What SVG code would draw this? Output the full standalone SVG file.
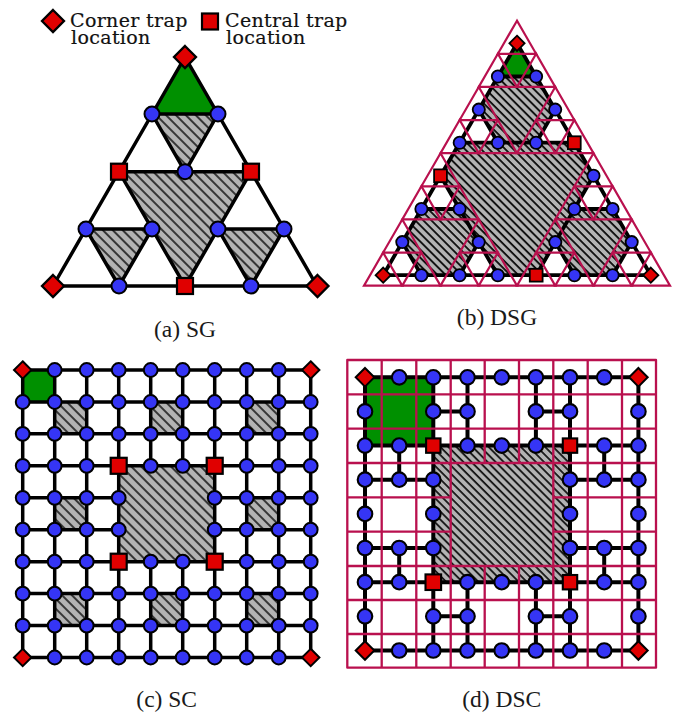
<svg xmlns="http://www.w3.org/2000/svg" width="677" height="713" viewBox="0 0 677 713">
<style>
.t{font-family:"Liberation Serif","Times New Roman",serif;font-size:23.5px;fill:#1a1a1a;text-anchor:middle}
.l{font-family:"DejaVu Serif","Liberation Serif",serif;font-size:19px;fill:#111;stroke:#111;stroke-width:.2;letter-spacing:.35px}
.e{fill:none;stroke:#000;stroke-width:3.5;stroke-linejoin:round;stroke-linecap:round}
.eb{fill:none;stroke:#000;stroke-width:3.8;stroke-linejoin:round;stroke-linecap:round}
.e2{fill:none;stroke:#000;stroke-width:4;stroke-linejoin:round;stroke-linecap:round}
.m{fill:none;stroke:#b9104e;stroke-width:2.2}
.mg{fill:none;stroke:#b9104e;stroke-width:2.3;stroke-linejoin:round;stroke-linecap:round}
.bl{fill:#3535f5;stroke:#000}
.rd{fill:#e00000;stroke:#000}
.gr{fill:#009000}
</style>
<defs>
<pattern id="ha" width="7" height="7" patternUnits="userSpaceOnUse" patternTransform="rotate(-45)"><rect width="7" height="7" fill="#b3b3b3"/><path d="M1,0V7" stroke="#000" stroke-width="1.4"/></pattern>
<pattern id="hb" width="5.7" height="5.7" patternUnits="userSpaceOnUse" patternTransform="rotate(-45)"><rect width="5.7" height="5.7" fill="#b3b3b3"/><path d="M1,0V5.7" stroke="#000" stroke-width="1.7"/></pattern>
<pattern id="hc" width="7" height="7" patternUnits="userSpaceOnUse" patternTransform="rotate(-45)"><rect width="7" height="7" fill="#b3b3b3"/><path d="M1,0V7" stroke="#000" stroke-width="1.4"/></pattern>
<pattern id="hd" width="5.7" height="5.7" patternUnits="userSpaceOnUse" patternTransform="rotate(-45)"><rect width="5.7" height="5.7" fill="#b3b3b3"/><path d="M1,0V5.7" stroke="#000" stroke-width="1.6"/></pattern>
<circle id="ba" class="bl" r="7.5" stroke-width="2"/>
<circle id="bb" class="bl" r="6.1" stroke-width="1.8"/>
<circle id="bc" class="bl" r="6.9" stroke-width="2"/>
<circle id="bd" class="bl" r="7.3" stroke-width="2.1"/>
<rect id="ra" class="rd" x="-8" y="-8" width="16" height="16" stroke-width="2.2"/>
<rect id="rb" class="rd" x="-6.4" y="-6.4" width="12.8" height="12.8" stroke-width="1.8"/>
<rect id="rc" class="rd" x="-8" y="-8" width="16" height="16" stroke-width="2.2"/>
<rect id="rd" class="rd" x="-7.2" y="-7.2" width="14.4" height="14.4" stroke-width="2.1"/>
<rect id="re" class="rd" x="-7.8" y="-7.8" width="15.6" height="15.6" stroke-width="2.1"/>
<path id="da" class="rd" d="M0-11L11 0L0 11L-11 0Z" stroke-width="2.3"/>
<path id="db" class="rd" d="M0-7.6L7.6 0L0 7.6L-7.6 0Z" stroke-width="1.8"/>
<path id="dc" class="rd" d="M0-8.7L8.7 0L0 8.7L-8.7 0Z" stroke-width="2"/>
<path id="dd" class="rd" d="M0-9.3L9.3 0L0 9.3L-9.3 0Z" stroke-width="2"/>
<path id="t0" class="m" d="M0 0L-19.125 33.12L19.125 33.12Z"/>
<g id="t1"><use href="#t0"/><use href="#t0" x="-19.125" y="33.12"/><use href="#t0" x="19.125" y="33.12"/></g>
<g id="t2"><use href="#t1"/><use href="#t1" x="-38.25" y="66.25"/><use href="#t1" x="38.25" y="66.25"/></g>
</defs>

<g id="legend">
<g id="legend-corner"><use href="#da" x="53" y="21"/><text class="l"><tspan x="70" y="27.3">Corner trap</tspan><tspan x="71" y="44">location</tspan></text></g>
<g id="legend-central"><use href="#ra" x="210" y="21.5"/><text class="l"><tspan x="225" y="27.3">Central trap</tspan><tspan x="226" y="44">location</tspan></text></g>
</g>

<!-- (a) SG -->
<g id="regions-a">
<path class="gr" d="M185 57L152 114H218Z"/>
<path fill="url(#ha)" d="M152 114H218L185 171.7ZM119 171.7H251L185 286ZM86 229H152L119 286ZM218 229H284L251 286Z"/>
</g>
<g id="connectors-a" class="e">
<path d="M185 57L53 286H317ZM152 114H218M119 171.7H251M86 229H152M218 229H284M152 114L185 171.7L218 114M119 171.7L185 286L251 171.7M86 229L119 286L152 229M218 229L251 286L284 229"/>
</g>
<g id="nodes-a">
<g id="a-1"><use href="#da" x="185" y="57"/></g>
<g id="a-2"><use href="#ba" x="152" y="114"/></g>
<g id="a-3"><use href="#ba" x="218" y="114"/></g>
<g id="a-4"><use href="#ra" x="119" y="171.7"/></g>
<g id="a-5"><use href="#ba" x="185" y="171.7"/></g>
<g id="a-6"><use href="#ra" x="251" y="171.7"/></g>
<g id="a-7"><use href="#ba" x="86" y="229"/></g>
<g id="a-8"><use href="#ba" x="152" y="229"/></g>
<g id="a-9"><use href="#ba" x="218" y="229"/></g>
<g id="a-10"><use href="#ba" x="284" y="229"/></g>
<g id="a-11"><use href="#da" x="53" y="286"/></g>
<g id="a-12"><use href="#ba" x="119" y="286"/></g>
<g id="a-13"><use href="#ra" x="185" y="286"/></g>
<g id="a-14"><use href="#ba" x="251" y="286"/></g>
<g id="a-15"><use href="#da" x="317.5" y="286"/></g>
</g>
<text class="t" x="185" y="337">(a) SG</text>

<!-- (b) DSG -->
<g id="regions-b">
<path class="gr" d="M517 43.3L497.9 76.5H536.1Z"/>
<path fill="url(#hb)" d="M459.7 142.7H574.3L593.5 175.8L536.2 275.2H497.8L440.5 175.8ZM497.9 76.5H536.1L555.2 109.6L536.1 142.7H497.9L478.8 109.6ZM421.4 209H459.6L478.7 242.1L459.6 275.2H421.4L402.3 242.1ZM574.4 209H612.6L631.7 242.1L612.6 275.2H574.4L555.3 242.1Z"/>
</g>
<g id="connectors-b" class="eb">
<path d="M517 43.3L497.9 76.5H536.1ZM497.9 76.5L478.8 109.6L459.7 142.7H497.9L478.8 109.6M536.1 76.5L555.2 109.6L574.3 142.7H536.1L555.2 109.6M497.9 142.7H536.1M459.7 142.7L440.5 175.8L421.4 209H459.6L440.5 175.8M574.3 142.7L593.5 175.8L574.4 209H612.6L593.5 175.8M421.4 209L402.3 242.1L383.2 275.2H421.4L402.3 242.1M459.6 209L478.7 242.1L459.6 275.2H497.8L478.7 242.1M421.4 275.2H459.6M497.8 275.2H536.2M574.4 209L555.3 242.1L536.2 275.2H574.4L555.3 242.1M612.6 209L631.7 242.1L612.6 275.2H650.8L631.7 242.1M574.4 275.2H612.6"/>
</g>
<g id="mesh-b">
<use href="#t2" x="517" y="20.7"/><use href="#t2" x="440.5" y="153.2"/><use href="#t2" x="593.5" y="153.2"/>
</g>
<g id="nodes-b">
<g id="b-1"><use href="#db" x="517" y="43.3"/></g>
<g id="b-2"><use href="#bb" x="497.9" y="76.5"/></g>
<g id="b-3"><use href="#bb" x="536.1" y="76.5"/></g>
<g id="b-4"><use href="#bb" x="478.8" y="109.6"/></g>
<g id="b-5"><use href="#bb" x="459.7" y="142.7"/></g>
<g id="b-6"><use href="#bb" x="497.9" y="142.7"/></g>
<g id="b-7"><use href="#bb" x="555.2" y="109.6"/></g>
<g id="b-8"><use href="#bb" x="536.1" y="142.7"/></g>
<g id="b-9"><use href="#rb" x="574.3" y="142.7"/></g>
<g id="b-10"><use href="#rb" x="440.5" y="175.8"/></g>
<g id="b-11"><use href="#bb" x="421.4" y="209"/></g>
<g id="b-12"><use href="#bb" x="459.6" y="209"/></g>
<g id="b-13"><use href="#bb" x="402.3" y="242.1"/></g>
<g id="b-14"><use href="#db" x="383.2" y="275.2"/></g>
<g id="b-15"><use href="#bb" x="421.4" y="275.2"/></g>
<g id="b-16"><use href="#bb" x="478.7" y="242.1"/></g>
<g id="b-17"><use href="#bb" x="459.6" y="275.2"/></g>
<g id="b-18"><use href="#bb" x="497.8" y="275.2"/></g>
<g id="b-19"><use href="#bb" x="593.5" y="175.8"/></g>
<g id="b-20"><use href="#bb" x="574.4" y="209"/></g>
<g id="b-21"><use href="#bb" x="612.6" y="209"/></g>
<g id="b-22"><use href="#bb" x="555.3" y="242.1"/></g>
<g id="b-23"><use href="#rb" x="536.2" y="275.2"/></g>
<g id="b-24"><use href="#bb" x="574.4" y="275.2"/></g>
<g id="b-25"><use href="#bb" x="631.7" y="242.1"/></g>
<g id="b-26"><use href="#bb" x="612.6" y="275.2"/></g>
<g id="b-27"><use href="#db" x="650.8" y="275.2"/></g>
</g>
<text class="t" x="497" y="325">(b) DSG</text>

<!-- (c) SC -->
<g id="regions-c">
<rect class="gr" x="22.7" y="370" width="32" height="32"/>
<path fill="url(#hc)" d="M118.7 465.8H214.7V561.7H118.7ZM54.7 402H86.7V433.8H54.7ZM150.7 402H182.7V433.8H150.7ZM246.7 402H278.7V433.8H246.7ZM54.7 497.8H86.7V529.7H54.7ZM246.7 497.8H278.7V529.7H246.7ZM54.7 593.6H86.7V625.6H54.7ZM150.7 593.6H182.7V625.6H150.7ZM246.7 593.6H278.7V625.6H246.7Z"/>
</g>
<g id="connectors-c" class="e">
<path d="M22.7 370H310.7M22.7 402H310.7M22.7 433.8H310.7M22.7 465.8H310.7M22.7 497.8H118.7M214.7 497.8H310.7M22.7 529.7H118.7M214.7 529.7H310.7M22.7 561.7H310.7M22.7 593.6H310.7M22.7 625.6H310.7M22.7 657.5H310.7M22.7 370V657.5M54.7 370V657.5M86.7 370V657.5M118.7 370V657.5M150.7 370V465.8M150.7 561.7V657.5M182.7 370V465.8M182.7 561.7V657.5M214.7 370V657.5M246.7 370V657.5M278.7 370V657.5M310.7 370V657.5"/>
</g>
<g id="nodes-c">
<g id="c-0-0"><use href="#dc" x="22.7" y="370"/></g><g id="c-1-0"><use href="#bc" x="54.7" y="370"/></g><g id="c-2-0"><use href="#bc" x="86.7" y="370"/></g><g id="c-3-0"><use href="#bc" x="118.7" y="370"/></g><g id="c-4-0"><use href="#bc" x="150.7" y="370"/></g><g id="c-5-0"><use href="#bc" x="182.7" y="370"/></g><g id="c-6-0"><use href="#bc" x="214.7" y="370"/></g><g id="c-7-0"><use href="#bc" x="246.7" y="370"/></g><g id="c-8-0"><use href="#bc" x="278.7" y="370"/></g><g id="c-9-0"><use href="#dc" x="310.7" y="370"/></g>
<g id="c-0-1"><use href="#bc" x="22.7" y="402"/></g><g id="c-1-1"><use href="#bc" x="54.7" y="402"/></g><g id="c-2-1"><use href="#bc" x="86.7" y="402"/></g><g id="c-3-1"><use href="#bc" x="118.7" y="402"/></g><g id="c-4-1"><use href="#bc" x="150.7" y="402"/></g><g id="c-5-1"><use href="#bc" x="182.7" y="402"/></g><g id="c-6-1"><use href="#bc" x="214.7" y="402"/></g><g id="c-7-1"><use href="#bc" x="246.7" y="402"/></g><g id="c-8-1"><use href="#bc" x="278.7" y="402"/></g><g id="c-9-1"><use href="#bc" x="310.7" y="402"/></g>
<g id="c-0-2"><use href="#bc" x="22.7" y="433.8"/></g><g id="c-1-2"><use href="#bc" x="54.7" y="433.8"/></g><g id="c-2-2"><use href="#bc" x="86.7" y="433.8"/></g><g id="c-3-2"><use href="#bc" x="118.7" y="433.8"/></g><g id="c-4-2"><use href="#bc" x="150.7" y="433.8"/></g><g id="c-5-2"><use href="#bc" x="182.7" y="433.8"/></g><g id="c-6-2"><use href="#bc" x="214.7" y="433.8"/></g><g id="c-7-2"><use href="#bc" x="246.7" y="433.8"/></g><g id="c-8-2"><use href="#bc" x="278.7" y="433.8"/></g><g id="c-9-2"><use href="#bc" x="310.7" y="433.8"/></g>
<g id="c-0-3"><use href="#bc" x="22.7" y="465.8"/></g><g id="c-1-3"><use href="#bc" x="54.7" y="465.8"/></g><g id="c-2-3"><use href="#bc" x="86.7" y="465.8"/></g><g id="c-3-3"><use href="#rc" x="118.7" y="465.8"/></g><g id="c-4-3"><use href="#bc" x="150.7" y="465.8"/></g><g id="c-5-3"><use href="#bc" x="182.7" y="465.8"/></g><g id="c-6-3"><use href="#rc" x="214.7" y="465.8"/></g><g id="c-7-3"><use href="#bc" x="246.7" y="465.8"/></g><g id="c-8-3"><use href="#bc" x="278.7" y="465.8"/></g><g id="c-9-3"><use href="#bc" x="310.7" y="465.8"/></g>
<g id="c-0-4"><use href="#bc" x="22.7" y="497.8"/></g><g id="c-1-4"><use href="#bc" x="54.7" y="497.8"/></g><g id="c-2-4"><use href="#bc" x="86.7" y="497.8"/></g><g id="c-3-4"><use href="#bc" x="118.7" y="497.8"/></g><g id="c-6-4"><use href="#bc" x="214.7" y="497.8"/></g><g id="c-7-4"><use href="#bc" x="246.7" y="497.8"/></g><g id="c-8-4"><use href="#bc" x="278.7" y="497.8"/></g><g id="c-9-4"><use href="#bc" x="310.7" y="497.8"/></g>
<g id="c-0-5"><use href="#bc" x="22.7" y="529.7"/></g><g id="c-1-5"><use href="#bc" x="54.7" y="529.7"/></g><g id="c-2-5"><use href="#bc" x="86.7" y="529.7"/></g><g id="c-3-5"><use href="#bc" x="118.7" y="529.7"/></g><g id="c-6-5"><use href="#bc" x="214.7" y="529.7"/></g><g id="c-7-5"><use href="#bc" x="246.7" y="529.7"/></g><g id="c-8-5"><use href="#bc" x="278.7" y="529.7"/></g><g id="c-9-5"><use href="#bc" x="310.7" y="529.7"/></g>
<g id="c-0-6"><use href="#bc" x="22.7" y="561.7"/></g><g id="c-1-6"><use href="#bc" x="54.7" y="561.7"/></g><g id="c-2-6"><use href="#bc" x="86.7" y="561.7"/></g><g id="c-3-6"><use href="#rc" x="118.7" y="561.7"/></g><g id="c-4-6"><use href="#bc" x="150.7" y="561.7"/></g><g id="c-5-6"><use href="#bc" x="182.7" y="561.7"/></g><g id="c-6-6"><use href="#rc" x="214.7" y="561.7"/></g><g id="c-7-6"><use href="#bc" x="246.7" y="561.7"/></g><g id="c-8-6"><use href="#bc" x="278.7" y="561.7"/></g><g id="c-9-6"><use href="#bc" x="310.7" y="561.7"/></g>
<g id="c-0-7"><use href="#bc" x="22.7" y="593.6"/></g><g id="c-1-7"><use href="#bc" x="54.7" y="593.6"/></g><g id="c-2-7"><use href="#bc" x="86.7" y="593.6"/></g><g id="c-3-7"><use href="#bc" x="118.7" y="593.6"/></g><g id="c-4-7"><use href="#bc" x="150.7" y="593.6"/></g><g id="c-5-7"><use href="#bc" x="182.7" y="593.6"/></g><g id="c-6-7"><use href="#bc" x="214.7" y="593.6"/></g><g id="c-7-7"><use href="#bc" x="246.7" y="593.6"/></g><g id="c-8-7"><use href="#bc" x="278.7" y="593.6"/></g><g id="c-9-7"><use href="#bc" x="310.7" y="593.6"/></g>
<g id="c-0-8"><use href="#bc" x="22.7" y="625.6"/></g><g id="c-1-8"><use href="#bc" x="54.7" y="625.6"/></g><g id="c-2-8"><use href="#bc" x="86.7" y="625.6"/></g><g id="c-3-8"><use href="#bc" x="118.7" y="625.6"/></g><g id="c-4-8"><use href="#bc" x="150.7" y="625.6"/></g><g id="c-5-8"><use href="#bc" x="182.7" y="625.6"/></g><g id="c-6-8"><use href="#bc" x="214.7" y="625.6"/></g><g id="c-7-8"><use href="#bc" x="246.7" y="625.6"/></g><g id="c-8-8"><use href="#bc" x="278.7" y="625.6"/></g><g id="c-9-8"><use href="#bc" x="310.7" y="625.6"/></g>
<g id="c-0-9"><use href="#dc" x="22.7" y="657.5"/></g><g id="c-1-9"><use href="#bc" x="54.7" y="657.5"/></g><g id="c-2-9"><use href="#bc" x="86.7" y="657.5"/></g><g id="c-3-9"><use href="#bc" x="118.7" y="657.5"/></g><g id="c-4-9"><use href="#bc" x="150.7" y="657.5"/></g><g id="c-5-9"><use href="#bc" x="182.7" y="657.5"/></g><g id="c-6-9"><use href="#bc" x="214.7" y="657.5"/></g><g id="c-7-9"><use href="#bc" x="246.7" y="657.5"/></g><g id="c-8-9"><use href="#bc" x="278.7" y="657.5"/></g><g id="c-9-9"><use href="#dc" x="310.7" y="657.5"/></g>
</g>
<text class="t" x="166.7" y="706.7">(c) SC</text>

<!-- (d) DSC -->
<g id="regions-d">
<rect class="gr" x="365" y="377.3" width="68.3" height="68.3"/>
<rect fill="url(#hd)" x="433.3" y="445.6" width="136.7" height="136.6"/>
</g>
<g id="connectors-d" class="e2">
<path d="M365 377.3H638.4M365 445.6H638.4M365 582.2H638.4M365 650.5H638.4M433.3 411.4H467.5M535.9 411.4H570M433.3 616.3H467.5M535.9 616.3H570M365 479.7H433.3M570 479.7H638.4M365 548H433.3M570 548H638.4M365 377.3V650.5M638.4 377.3V650.5M433.3 377.3V650.5M570 377.3V650.5M467.5 377.3V445.6M535.9 377.3V445.6M467.5 582.2V650.5M535.9 582.2V650.5M399.2 445.6V479.7M604.2 445.6V479.7M399.2 548V582.2M604.2 548V582.2"/>
</g>
<g id="mesh-d" class="mg">
<path d="M347.3 360H656M347.3 394.3H656M347.3 428.7H656M347.3 463H656M347.3 497.3H450.7M553.3 497.3H656M347.3 531.7H450.7M553.3 531.7H656M347.3 566H656M347.3 600H656M347.3 634H656M347.3 667.7H656M347.3 360V667.7M381.7 360V667.7M416.3 360V667.7M450.7 360V667.7M484.7 360V463M484.7 566V667.7M519 360V463M519 566V667.7M553.3 360V667.7M587.7 360V667.7M622 360V667.7M656 360V667.7"/>
</g>
<g id="nodes-d">
<g id="d-0-0"><use href="#dd" x="365" y="377.3"/></g><g id="d-1-0"><use href="#bd" x="399.2" y="377.3"/></g><g id="d-2-0"><use href="#bd" x="433.3" y="377.3"/></g><g id="d-3-0"><use href="#bd" x="467.5" y="377.3"/></g><g id="d-4-0"><use href="#bd" x="501.7" y="377.3"/></g><g id="d-5-0"><use href="#bd" x="535.9" y="377.3"/></g><g id="d-6-0"><use href="#bd" x="570" y="377.3"/></g><g id="d-7-0"><use href="#bd" x="604.2" y="377.3"/></g><g id="d-8-0"><use href="#dd" x="638.4" y="377.3"/></g>
<g id="d-0-1"><use href="#bd" x="365" y="411.4"/></g><g id="d-2-1"><use href="#bd" x="433.3" y="411.4"/></g><g id="d-3-1"><use href="#bd" x="467.5" y="411.4"/></g><g id="d-5-1"><use href="#bd" x="535.9" y="411.4"/></g><g id="d-6-1"><use href="#bd" x="570" y="411.4"/></g><g id="d-8-1"><use href="#bd" x="638.4" y="411.4"/></g>
<g id="d-0-2"><use href="#bd" x="365" y="445.6"/></g><g id="d-1-2"><use href="#bd" x="399.2" y="445.6"/></g><g id="d-2-2"><use href="#rd" x="433.3" y="445.6"/></g><g id="d-3-2"><use href="#bd" x="467.5" y="445.6"/></g><g id="d-4-2"><use href="#bd" x="501.7" y="445.6"/></g><g id="d-5-2"><use href="#bd" x="535.9" y="445.6"/></g><g id="d-6-2"><use href="#rd" x="570" y="445.6"/></g><g id="d-7-2"><use href="#bd" x="604.2" y="445.6"/></g><g id="d-8-2"><use href="#bd" x="638.4" y="445.6"/></g>
<g id="d-0-3"><use href="#bd" x="365" y="479.7"/></g><g id="d-1-3"><use href="#bd" x="399.2" y="479.7"/></g><g id="d-2-3"><use href="#bd" x="433.3" y="479.7"/></g><g id="d-6-3"><use href="#bd" x="570" y="479.7"/></g><g id="d-7-3"><use href="#bd" x="604.2" y="479.7"/></g><g id="d-8-3"><use href="#bd" x="638.4" y="479.7"/></g>
<g id="d-0-4"><use href="#bd" x="365" y="513.9"/></g><g id="d-2-4"><use href="#bd" x="433.3" y="513.9"/></g><g id="d-6-4"><use href="#bd" x="570" y="513.9"/></g><g id="d-8-4"><use href="#bd" x="638.4" y="513.9"/></g>
<g id="d-0-5"><use href="#bd" x="365" y="548"/></g><g id="d-1-5"><use href="#bd" x="399.2" y="548"/></g><g id="d-2-5"><use href="#bd" x="433.3" y="548"/></g><g id="d-6-5"><use href="#bd" x="570" y="548"/></g><g id="d-7-5"><use href="#bd" x="604.2" y="548"/></g><g id="d-8-5"><use href="#bd" x="638.4" y="548"/></g>
<g id="d-0-6"><use href="#bd" x="365" y="582.2"/></g><g id="d-1-6"><use href="#bd" x="399.2" y="582.2"/></g><g id="d-2-6"><use href="#re" x="433.3" y="582.2"/></g><g id="d-3-6"><use href="#bd" x="467.5" y="582.2"/></g><g id="d-4-6"><use href="#bd" x="501.7" y="582.2"/></g><g id="d-5-6"><use href="#bd" x="535.9" y="582.2"/></g><g id="d-6-6"><use href="#rd" x="570" y="582.2"/></g><g id="d-7-6"><use href="#bd" x="604.2" y="582.2"/></g><g id="d-8-6"><use href="#bd" x="638.4" y="582.2"/></g>
<g id="d-0-7"><use href="#bd" x="365" y="616.3"/></g><g id="d-2-7"><use href="#bd" x="433.3" y="616.3"/></g><g id="d-3-7"><use href="#bd" x="467.5" y="616.3"/></g><g id="d-5-7"><use href="#bd" x="535.9" y="616.3"/></g><g id="d-6-7"><use href="#bd" x="570" y="616.3"/></g><g id="d-8-7"><use href="#bd" x="638.4" y="616.3"/></g>
<g id="d-0-8"><use href="#dd" x="365" y="650.5"/></g><g id="d-1-8"><use href="#bd" x="399.2" y="650.5"/></g><g id="d-2-8"><use href="#bd" x="433.3" y="650.5"/></g><g id="d-3-8"><use href="#bd" x="467.5" y="650.5"/></g><g id="d-4-8"><use href="#bd" x="501.7" y="650.5"/></g><g id="d-5-8"><use href="#bd" x="535.9" y="650.5"/></g><g id="d-6-8"><use href="#bd" x="570" y="650.5"/></g><g id="d-7-8"><use href="#bd" x="604.2" y="650.5"/></g><g id="d-8-8"><use href="#dd" x="638.4" y="650.5"/></g>
</g>
<text class="t" x="501.7" y="706.7">(d) DSC</text>
</svg>
